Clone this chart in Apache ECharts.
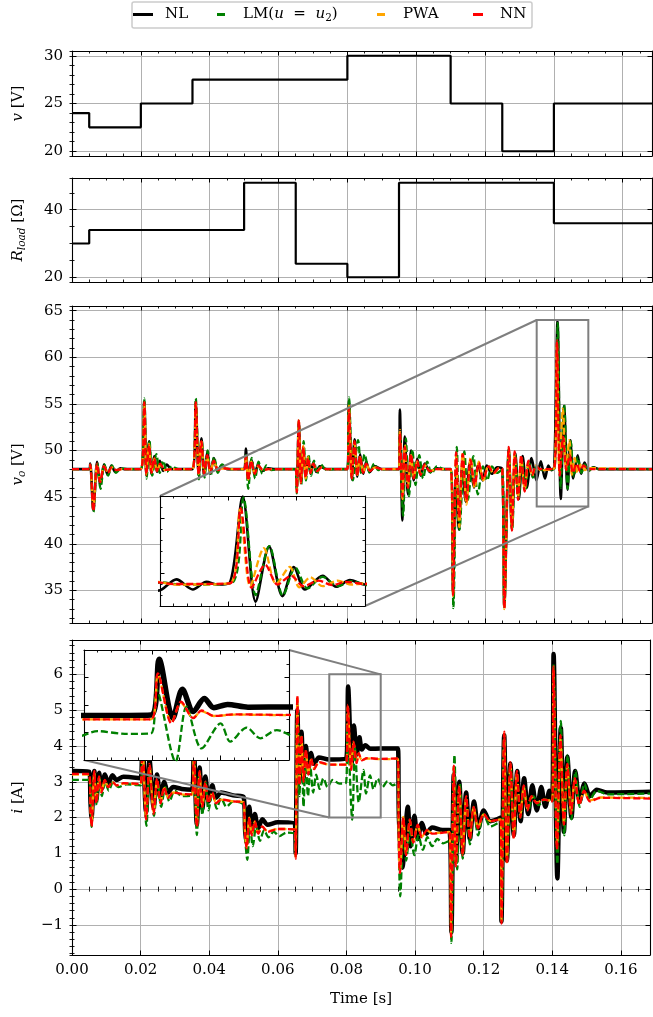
<!DOCTYPE html>
<html><head><meta charset="utf-8">
<script src="https://cdn.jsdelivr.net/npm/echarts@6/dist/echarts.min.js"></script>
<style>html,body{margin:0;padding:0;background:#fff;}#c{width:653px;height:1017px;}</style>
</head><body><div id="c"></div>
<script>
// ---------------- DATA (time in ms) ----------------
const vInput = [[0,24],[5,22.5],[20,25],[35,27.5],[80,30],[110,25],[125,20],[140,25],[168.5,25]];
const rLoad  = [[0,30],[5,34],[50,48],[65,24],[80,20],[95,48],[140,36],[168.5,36]];

const voNL = [[0,48],[5,48],[5.3,48.6],[6.2,43.6],[7.3,48.8],[8.2,46.3],[9.3,48.5],[10.4,47.4],[11.5,48.4],[12.6,47.7],[14,48.1],[15.5,48],
[20,48],[21.0,55.3],[21.6,47.3],[22.4,51.0],[23.1,47.5],[23.9,49.4],[24.7,47.7],[25.5,48.9],[26.5,47.8],[27.5,48.5],[29,48],
[35,48],[35.95,55.1],[36.8,47.3],[37.6,51.3],[38.4,47.3],[39.3,49.8],[40.2,47.5],[41.2,49.2],[42.3,47.8],[43.5,48.4],[45,48],
[50,48],[50.5,50.2],[51.2,47.1],[52.1,49.0],[53.1,47.5],[54.1,48.5],[55.2,47.8],[57,48.1],[59,48],
[65,48],[65.3,45.8],[65.9,53.0],[66.5,46.6],[67.2,50.3],[67.9,47.1],[68.6,49.3],[69.3,47.5],[70.1,48.7],[71,47.7],[72,48.3],[74,48],
[80,48],[80.45,55.3],[81.3,46.9],[82.1,51.2],[82.9,47.2],[83.7,49.6],[84.6,47.5],[85.5,48.8],[86.5,47.7],[88,48.3],[90,48],
[95,48],[95.25,54.4],[96,42.5],[96.7,51.5],[97.6,45.3],[98.5,50],[99.3,46.8],[100.3,49.1],[101.3,47.3],[102.5,48.6],[104,47.7],[106,48.1],[108,48],
[110,48],[110.7,34.8],[111.5,47],[112.4,41.5],[113.4,48.5],[114.4,44.5],[115.6,48.7],[116.8,46],[118,48.5],[119.3,46.8],[120.5,48.4],[122,47.5],[123.5,48.2],[125,48],
[125.6,33.3],[126.9,50.2],[127.8,41.6],[128.8,49.7],[129.8,44.8],[130.9,49.4],[132.1,46.0],[133.5,49.2],[134.9,46.8],[136.2,48.85],[137.4,47.0],[138.4,48.4],[139.2,47.9],[140.1,48.2],
[141.05,63.9],[142.0,44.8],[142.98,54.8],[143.96,45.8],[144.8,51.1],[145.6,47.0],[146.9,49.5],[147.9,47.5],[148.9,48.7],[150,47.9],[151.5,48.2],[153,48],[168.5,48]];

const voLM = [[0,48],[5,48],[5.3,48.5],[6.25,43.4],[7.3,48.7],[8.3,45.9],[9.4,48.5],[10.5,47.3],[11.6,48.4],[12.8,47.6],[14.3,48.1],[16,48],
[20,48],[21.0,55.6],[21.7,47.0],[22.5,51.1],[23.3,47.3],[24.5,49.6],[25.5,47.6],[26.5,48.9],[27.6,47.7],[29,48.3],[31,48],
[35,48],[35.95,55.6],[36.9,46.9],[37.7,51.0],[38.5,47.1],[39.4,50.0],[40.3,47.3],[41.3,49.3],[42.4,47.6],[43.6,48.5],[45.5,48],
[50,48],[50.5,49.5],[51.2,45.9],[52.2,49.2],[53.2,47.0],[54.2,48.8],[55.3,47.5],[56.5,48.4],[58,47.9],[60,48],
[65,48],[65.3,45.4],[65.9,53.2],[66.6,46.3],[67.3,51.0],[68.0,46.8],[68.7,49.6],[69.5,47.3],[70.3,48.9],[71.2,47.5],[72.3,48.5],[74,47.9],[76,48],
[80,48],[80.5,55.7],[81.6,46.8],[83.1,51.1],[84.1,47.5],[85,49.6],[86.5,47.6],[87.8,48.6],[89,47.9],[91,48],
[95,48],[95.2,51.9],[96.2,43.0],[97.0,51.3],[97.9,45.1],[98.9,50.1],[99.8,46.3],[100.9,49.5],[102,47.0],[103.2,48.8],[104.5,47.5],[106,48.3],[108,48],
[110,48],[110.8,33.1],[111.8,50.4],[112.6,41.5],[114.0,49.9],[115.0,44.7],[116.6,49.4],[117.9,45.3],[119.4,48.3],[120.6,46.8],[122,48.3],[123.5,47.6],[125,48],
[125.6,33.0],[126.9,50.1],[127.9,41.5],[128.8,49.5],[129.8,44.9],[130.7,49.2],[131.7,45.7],[132.8,48.8],[133.9,47.1],[135,48.3],[136.5,47.9],[140.2,48.1],
[141.1,63.7],[142.0,46.0],[143.0,54.9],[144.0,45.9],[144.9,51.0],[145.8,47.2],[146.9,49.3],[148,47.6],[149,48.5],[150.2,47.8],[151.5,48.2],[153,48],[168.5,48]];

const voPWA = [[0,48],[5,48],[5.3,48.4],[6.2,43.8],[7.3,48.5],[8.2,46.7],[9.3,48.3],[10.5,47.6],[11.6,48.2],[13,47.9],[14.5,48],
[20,48],[21.0,55.0],[21.6,47.5],[22.4,50.7],[23.1,47.6],[23.9,49.1],[24.7,47.8],[25.6,48.5],[27,47.9],[29,48],
[35,48],[35.95,55.0],[36.8,47.5],[37.6,51.1],[38.4,47.5],[39.3,49.4],[40.2,47.7],[41.2,48.8],[42.5,47.9],[44,48.1],[46,48],
[50,48],[50.5,49.6],[51.2,46.9],[52.1,48.8],[53.1,47.6],[54.1,48.3],[55.5,47.9],[57,48],
[65,48],[65.3,45.6],[65.9,53.2],[66.5,46.6],[67.2,50.5],[67.9,47.0],[68.6,49.3],[69.3,47.6],[70.1,48.6],[71.2,47.8],[72.5,48.2],[74,48],
[80,48],[80.45,54.8],[81.3,47.1],[82.1,50.8],[82.9,47.4],[83.7,49.3],[84.6,47.6],[85.5,48.6],[86.6,47.8],[88,48.2],[90,48],
[95,48],[95.25,52.2],[96,44.8],[96.7,50.6],[97.6,46.1],[98.5,49.5],[99.3,47.1],[100.3,48.8],[101.3,47.5],[102.5,48.4],[104,47.8],[106,48],
[110,48],[110.7,34.4],[111.6,49.5],[112.5,41.8],[113.5,49.8],[114.6,44.2],[115.8,49.2],[117,46.0],[118.2,48.8],[119.5,46.8],[121,48.4],[122.5,47.5],[124,48.1],[125,48],
[125.6,33.0],[126.9,50.2],[127.8,41.6],[128.6,49.6],[129.6,45.0],[130.5,49.2],[131.5,45.9],[132.6,48.7],[133.7,47.3],[134.8,48.4],[136,47.9],[140.1,48.1],
[140.85,61.5],[141.6,47.6],[142.6,54.5],[143.5,48.0],[144.5,51.1],[145.2,47.4],[146.0,49.2],[146.9,47.6],[148,48.6],[149,47.9],[150,48.1],[168.5,48]];

const voNN = [[0,48],[5,48],[5.3,48.5],[6.2,43.5],[7.3,48.6],[8.2,46.6],[9.3,48.3],[10.4,47.6],[11.5,48.2],[13,47.9],[14.5,48],
[20,48],[21.0,55.2],[21.6,47.4],[22.4,50.6],[23.1,47.6],[23.9,49.2],[24.7,47.8],[25.6,48.6],[27,47.9],[29,48],
[35,48],[35.95,55.2],[36.8,47.4],[37.6,51.0],[38.4,47.5],[39.3,49.5],[40.2,47.6],[41.2,48.9],[42.5,47.9],[44,48.1],[46,48],
[50,48],[50.5,49.4],[51.2,46.8],[52.1,48.9],[53.1,47.5],[54.1,48.4],[55.5,47.9],[57,48],
[65,48],[65.3,45.5],[65.9,53.3],[66.5,46.5],[67.2,50.4],[67.9,47.1],[68.6,49.2],[69.3,47.6],[70.1,48.6],[71.2,47.8],[72.5,48.2],[74,48],
[80,48],[80.45,54.6],[81.3,47],[82.1,51],[82.9,47.3],[83.7,49.4],[84.6,47.6],[85.5,48.6],[86.6,47.8],[88,48.2],[90,48],
[95,48],[95.25,51.9],[96,45.1],[96.7,50.4],[97.6,46],[98.5,49.6],[99.3,47],[100.3,48.9],[101.3,47.4],[102.5,48.5],[104,47.8],[106,48],
[110,48],[110.7,34.5],[111.6,49.8],[112.5,42.8],[113.5,49.6],[114.6,44.6],[115.8,49.0],[117,46.3],[118.2,48.7],[119.5,46.9],[121,48.3],[122.5,47.6],[124,48.1],[125,48],
[125.6,33.1],[126.9,50.4],[127.8,41.4],[128.6,49.9],[129.6,44.7],[130.5,49.5],[131.5,45.6],[132.6,48.9],[133.7,47.4],[134.8,48.3],[136,48.0],[140.1,48.1],
[140.9,61.8],[141.7,47.3],[142.7,51.5],[143.6,47.9],[144.6,49.5],[145.5,47.6],[146.6,48.6],[147.6,47.8],[148.6,48.4],[150,48],[168.5,48]];

const iNL = [[0,3.3],[5,3.28],[5.4,2.4],[5.7,2.0],[6.5,3.3],[7.1,2.5],[7.9,3.25],[8.6,2.8],[9.6,3.2],[10.6,2.95],[11.8,3.18],[13,3.05],[15,3.14],[20,3.1],
[20.5,4.3],[21.6,2.15],[22.6,3.6],[23.8,2.3],[24.8,3.2],[25.8,2.55],[26.9,3.0],[28,2.7],[29.5,2.85],[32,2.8],[35,2.78],
[35.5,4.0],[36.4,1.8],[37.2,3.4],[38,2.25],[38.9,3.15],[39.8,2.45],[40.9,2.9],[42,2.55],[43.5,2.7],[47,2.62],[50,2.58],
[50.5,1.6],[50.9,1.3],[51.7,2.3],[52.4,1.6],[53.3,2.1],[54.3,1.7],[55.5,1.95],[57,1.8],[60,1.87],[65,1.82],
[65.2,1.0],[65.7,5.0],[66.3,3.0],[66.9,4.4],[67.5,3.1],[68.2,4.0],[68.9,3.35],[69.7,3.8],[70.6,3.5],[72,3.68],[75,3.62],[79.9,3.64],
[80.5,5.66],[81.5,3.52],[82.2,4.57],[83.0,3.76],[83.8,4.24],[84.5,3.9],[85.5,4.02],[87,3.92],[90,3.93],[95,3.93],
[95.3,2.0],[96.3,0.6],[97.9,2.3],[98.7,1.2],[99.8,2.05],[100.8,1.4],[102,1.85],[103.3,1.55],[105,1.72],[108,1.65],[110,1.65],
[110.6,-1.2],[111.3,3.2],[111.9,0.8],[112.9,3.0],[113.9,1.0],[114.9,2.7],[116,1.4],[117.2,2.45],[118.5,1.7],[120,2.2],[122,1.9],[125,2.0],
[125.2,-0.9],[126.0,4.3],[126.8,0.8],[127.8,3.5],[128.8,1.5],[129.8,3.3],[130.8,1.9],[131.8,3.1],[133,2.1],[134.2,2.9],[135.5,2.2],[136.8,2.85],[138,2.3],[139.2,2.75],[140,2.5],
[140.4,6.57],[141.5,0.3],[142.5,4.5],[143.4,1.6],[144.4,3.7],[145.6,2.0],[146.7,3.3],[148,2.45],[149.4,2.95],[151,2.6],[153,2.78],[156,2.7],[168.5,2.72]];

const iLM = [[0,3.05],[5,3.05],[5.7,1.74],[6.5,3.2],[7.2,2.35],[8.0,3.1],[8.7,2.6],[9.7,3.0],[10.7,2.75],[12,2.98],[13.5,2.85],[16,2.93],[20,2.9],
[20.5,4.0],[21.7,1.77],[22.7,3.4],[23.9,2.05],[25,3.0],[26,2.3],[27.2,2.85],[28.4,2.45],[30,2.75],[32,2.6],[35,2.62],
[35.5,3.8],[36.4,1.51],[37.2,3.25],[38,2.07],[38.9,3.0],[39.8,2.2],[41,2.7],[42.2,2.25],[43.5,2.55],[45,2.3],[47,2.45],[50,2.35],
[50.5,1.4],[51.1,0.82],[51.9,1.8],[52.7,1.2],[53.7,1.75],[54.8,1.35],[56,1.65],[57.3,1.45],[58.8,1.6],[60.5,1.48],[62.5,1.58],[65,1.53],
[65.2,0.9],[65.7,5.2],[66.3,2.6],[66.9,4.3],[67.5,2.3],[68.1,3.7],[68.8,2.6],[69.5,3.4],[70.3,2.7],[71.2,3.2],[72.2,2.8],[73.3,3.1],[74.5,2.85],[76,3.05],[78,2.95],[79.9,2.97],
[80.3,4.55],[81.7,1.94],[82.5,3.94],[83.6,2.42],[85.0,3.33],[85.7,2.67],[86.9,3.18],[87.9,2.79],[89.1,3.09],[90.5,2.85],[92,3.02],[93.5,2.9],[95,2.96],
[95.3,1.0],[95.7,-0.2],[96.6,1.7],[97.4,0.8],[98.6,1.6],[99.8,0.95],[101,1.5],[102.3,1.1],[103.6,1.45],[105,1.2],[106.5,1.4],[108.2,1.28],[110,1.35],
[110.6,-1.5],[111.5,3.75],[112.3,0.55],[113.1,2.96],[113.9,0.85],[114.9,2.45],[116,1.25],[117.1,2.3],[118.4,1.5],[120,2.1],[122,1.75],[125,1.9],
[125.25,-0.9],[126.05,4.2],[126.9,0.8],[127.9,3.4],[128.9,1.5],[129.8,3.1],[130.8,2.0],[131.8,2.85],[133,2.2],[134.5,2.6],[136,2.35],[138,2.5],[140,2.45],
[140.4,6.3],[141.5,0.7],[142.5,4.7],[143.5,1.5],[144.5,3.75],[145.6,1.95],[146.8,3.3],[148,2.3],[149.4,2.95],[151,2.5],[153,2.75],[156,2.65],[168.5,2.67]];

const iPWA = [[0,3.2],[5,3.2],[5.4,2.25],[5.7,1.8],[6.5,3.25],[7.1,2.45],[7.9,3.1],[8.6,2.72],[9.6,3.03],[10.6,2.86],[11.8,2.98],[13,2.9],[15,2.95],[20,2.93],
[20.5,4.1],[21.6,2.0],[22.6,3.45],[23.8,2.15],[24.8,3.05],[25.8,2.42],[26.9,2.82],[28,2.57],[29.5,2.7],[32,2.65],[35,2.64],
[35.5,3.85],[36.4,1.78],[37.2,3.25],[38,2.32],[38.9,2.95],[39.8,2.42],[40.9,2.68],[42,2.42],[43.5,2.5],[47,2.45],[50,2.43],
[50.4,1.65],[50.9,1.18],[51.7,2.0],[52.4,1.52],[53.3,1.88],[54.3,1.57],[55.5,1.74],[57,1.62],[60,1.68],[65,1.67],
[65.2,0.9],[65.7,5.35],[66.3,2.95],[66.9,4.25],[67.5,3.05],[68.2,3.85],[68.9,3.25],[69.7,3.62],[70.6,3.38],[72,3.53],[75,3.48],[79.9,3.48],
[80.4,5.1],[81.4,3.36],[82.1,4.08],[83.0,3.54],[83.6,3.78],[84.5,3.6],[86,3.65],[90,3.63],[95,3.64],
[95.25,1.55],[95.6,0.5],[96.6,2.02],[97.4,1.0],[98.5,1.92],[99.5,1.32],[100.8,1.78],[102,1.46],[103.5,1.64],[105,1.56],[110,1.6],
[110.5,-1.25],[111.3,3.4],[111.9,0.7],[112.9,2.85],[113.9,1.0],[114.9,2.55],[116,1.45],[117.1,2.28],[118.4,1.72],[120,2.08],[122,1.9],[125,1.95],
[125.2,-0.9],[126.0,4.35],[126.8,0.75],[127.8,3.5],[128.8,1.45],[129.7,3.25],[130.7,2.05],[131.7,2.85],[132.8,2.25],[134,2.58],[135.5,2.42],[137.5,2.5],[140,2.46],
[140.35,6.1],[141.4,1.2],[142.4,4.2],[143.4,1.85],[144.4,3.45],[145.5,2.15],[146.6,3.05],[147.9,2.38],[149.3,2.72],[151,2.48],[154,2.56],[168.5,2.55]];

const iNN = [[0,3.22],[5,3.22],[5.4,2.2],[5.7,1.75],[6.5,3.3],[7.1,2.4],[7.9,3.15],[8.6,2.7],[9.6,3.05],[10.6,2.85],[11.8,3.0],[13,2.9],[15,2.96],[20,2.94],
[20.5,4.2],[21.6,1.95],[22.6,3.5],[23.8,2.1],[24.8,3.1],[25.8,2.4],[26.9,2.85],[28,2.55],[29.5,2.7],[32,2.66],[35,2.65],
[35.5,3.9],[36.4,1.74],[37.2,3.3],[38,2.3],[38.9,3.0],[39.8,2.4],[40.9,2.7],[42,2.4],[43.5,2.5],[47,2.45],[50,2.42],
[50.4,1.6],[50.9,1.14],[51.7,2.0],[52.4,1.5],[53.3,1.9],[54.3,1.55],[55.5,1.75],[57,1.6],[60,1.68],[65,1.67],
[65.2,0.85],[65.7,5.4],[66.3,2.9],[66.9,4.3],[67.5,3.0],[68.2,3.9],[68.9,3.2],[69.7,3.65],[70.6,3.35],[72,3.55],[75,3.48],[79.9,3.48],
[80.4,5.15],[81.4,3.33],[82.1,4.12],[83.0,3.52],[83.6,3.8],[84.5,3.6],[86,3.66],[90,3.64],[95,3.65],
[95.25,1.5],[95.6,0.45],[96.6,2.0],[97.4,0.95],[98.5,1.95],[99.5,1.3],[100.8,1.8],[102,1.45],[103.5,1.65],[105,1.55],[110,1.6],
[110.5,-1.33],[111.3,3.45],[111.9,0.64],[112.9,2.9],[113.9,0.95],[114.9,2.6],[116,1.4],[117.1,2.3],[118.4,1.7],[120,2.1],[122,1.9],[125,1.95],
[125.2,-0.96],[126.0,4.4],[126.8,0.7],[127.8,3.55],[128.8,1.4],[129.7,3.3],[130.7,2.0],[131.7,2.9],[132.8,2.2],[134,2.6],[135.5,2.4],[137.5,2.5],[140,2.45],
[140.35,6.22],[141.4,1.1],[142.4,4.3],[143.4,1.8],[144.4,3.5],[145.5,2.1],[146.6,3.1],[147.9,2.35],[149.3,2.75],[151,2.45],[154,2.55],[168.5,2.53]];

// zoom windows [t0, t1] in s and [y0, y1]
const zoomVo = [0.135, 0.15, 44, 64];
const zoomI  = [0.075, 0.09, 2, 6];

// ---------------- CHART ----------------
const S = a => a.map(p => [p[0] / 1000, p[1]]);
const FF = 'DejaVu Serif';
const FS = 15;
const TXT = {fontFamily: FF, fontSize: FS, color: '#000'};
const RICH = {
  i: {fontFamily: FF, fontSize: FS, fontStyle: 'italic', color: '#000', lineHeight: 19},
  s: {fontFamily: FF, fontSize: 10.5, fontStyle: 'italic', color: '#000', lineHeight: 10, verticalAlign: 'bottom'},
  su: {fontFamily: FF, fontSize: 10.5, color: '#000', lineHeight: 10, verticalAlign: 'bottom'}
};
function isMul(v, step) { const r = v / step; return Math.abs(r - Math.round(r)) < 1e-6; }
function fmtNum(v, dec) { const s = Math.abs(v).toFixed(dec); return v < -1e-9 ? '\u2212' + s : s; }

const grids = [], xAxes = [], yAxes = [];
function addPanel(box, xr, yr, o) {
  const gi = grids.length;
  const zl = o.zlevel || 0;
  grids.push(Object.assign({show: !!o.bg, backgroundColor: o.bg || 'transparent', borderWidth: 0, zlevel: zl, z: 0}, box));
  const line = {show: true, onZero: false, lineStyle: {color: '#000', width: 1.1}};
  const tickMaj = {show: true, inside: true, length: 4.5, lineStyle: {color: '#000', width: 1}};
  const tickMin = {show: true, inside: true, length: 2.5, lineStyle: {color: '#000', width: 0.9}};
  const split = {show: !!o.gridLines, lineStyle: {color: '#b0b0b0', width: 1}};
  const mk = (pos, rng, major, withLabel, margin) => {
    const a = {gridIndex: gi, type: 'value', position: pos, min: rng[0], max: rng[1],
      splitNumber: major ? rng[2] : rng[3], zlevel: zl, z: o.axisZ || 0, silent: true,
      axisLine: major ? line : {show: false},
      axisTick: major ? tickMaj : tickMin,
      splitLine: major && (pos === 'bottom' || pos === 'left') ? split : {show: false},
      axisLabel: {show: false}};
    if (withLabel) a.axisLabel = Object.assign({show: true, margin, formatter: v => isMul(v, rng[4]) ? fmtNum(v, rng[5]) : ''}, TXT);
    return a;
  };
  const xi = xAxes.length;
  xAxes.push(mk('bottom', xr, true, o.xLabels, 8), mk('bottom', xr, false), mk('top', xr, true), mk('top', xr, false));
  const yi = yAxes.length;
  yAxes.push(mk('left', yr, true, o.yLabels, 9), mk('left', yr, false), mk('right', yr, true), mk('right', yr, false));
  if (o.yName) Object.assign(yAxes[yi], {name: o.yName, nameLocation: 'middle', nameRotate: 90, nameGap: 44,
    nameTextStyle: Object.assign({rich: RICH, lineHeight: 19}, TXT)});
  if (o.xName) Object.assign(xAxes[xi], {name: o.xName, nameLocation: 'middle', nameGap: 37,
    nameTextStyle: Object.assign({rich: RICH}, TXT)});
  return {gi, xi, yi, zl};
}

const XR = [0, 0.1685, 8, 34, 0.02, 2];
const pV  = addPanel({left: 72, top: 51, width: 580, height: 105}, XR, [19.5, 30.5, 2, 11, 5, 0], {gridLines: 1, yLabels: 1, yName: '{i|v} [V]'});
const pR  = addPanel({left: 72, top: 178, width: 580, height: 104}, XR, [18.6, 49.4, 2, 6, 20, 0], {gridLines: 1, yLabels: 1, yName: '{i|R}{s|load} [Ω]'});
const pVo = addPanel({left: 72, top: 306, width: 580, height: 317}, XR, [31.5, 65.5, 7, 34, 5, 0], {gridLines: 1, yLabels: 1, yName: '{i|v}{s|o} [V]'});
const pI  = addPanel({left: 72, top: 640, width: 580, height: 315}, XR, [-1.84, 6.96, 8, 44, 1, 0], {gridLines: 1, yLabels: 1, xLabels: 1, yName: '{i|i} [A]', xName: 'Time [s]'});
const pZ1 = addPanel({left: 160, top: 496, width: 205, height: 110}, [zoomVo[0], zoomVo[1], 3, 15, 1, 0], [zoomVo[2], zoomVo[3], 2, 10, 1, 0], {zlevel: 1, bg: '#fff', axisZ: 6});
const pZ2 = addPanel({left: 84, top: 650, width: 205, height: 110}, [zoomI[0], zoomI[1], 3, 15, 1, 0], [zoomI[2], zoomI[3], 4, 8, 1, 0], {zlevel: 1, bg: '#fff', axisZ: 6});

const DASH = [7, 3];
const STY = {
  NL:  {color: '#000000', width: 2.6, type: 'solid', z: 2},
  LM:  {color: '#008000', width: 2.3, type: DASH, z: 3},
  PWA: {color: '#ffa500', width: 2.3, type: DASH, z: 4},
  NN:  {color: '#ff0000', width: 2.3, type: DASH, z: 5}
};
function ser(name, data, p, widthOverride) {
  const st = STY[name];
  return {type: 'line', name, data: S(data), xAxisIndex: p.xi, yAxisIndex: p.yi, symbol: 'none', showSymbol: false,
    smooth: 0.3, animation: false, silent: true, zlevel: p.zl, z: st.z + (p.zl ? 10 : 0), color: st.color,
    lineStyle: {color: st.color, width: widthOverride || st.width, type: st.type, cap: 'butt', join: 'round'}};
}
const series = [
  {type: 'line', name: 'v', data: S(vInput), step: 'end', xAxisIndex: pV.xi, yAxisIndex: pV.yi, symbol: 'none', animation: false, silent: true, lineStyle: {color: '#000', width: 2.2}},
  {type: 'line', name: 'R', data: S(rLoad), step: 'end', xAxisIndex: pR.xi, yAxisIndex: pR.yi, symbol: 'none', animation: false, silent: true, lineStyle: {color: '#000', width: 2.2}},
  ser('NL', voNL, pVo), ser('LM', voLM, pVo), ser('PWA', voPWA, pVo), ser('NN', voNN, pVo),
  ser('NL', iNL, pI, 4.5), ser('LM', iLM, pI), ser('PWA', iPWA, pI), ser('NN', iNN, pI),
  ser('NL', voNL, pZ1), ser('LM', voLM, pZ1), ser('PWA', voPWA, pZ1), ser('NN', voNN, pZ1),
  ser('NL', iNL, pZ2, 5.5), ser('LM', iLM, pZ2), ser('PWA', iPWA, pZ2), ser('NN', iNN, pZ2)
];

function legendItem(name, left, path, w, label) {
  return {left, top: 5, padding: 0, itemWidth: w, itemHeight: 3, selectedMode: false,
    data: [{name, icon: 'path://' + path, itemStyle: {color: STY[name].color}}],
    formatter: () => label,
    textStyle: Object.assign({rich: RICH, lineHeight: 19}, TXT)};
}
const legend = [
  legendItem('NL', 133, 'M0,0h20v3h-20zM27,0L27,3L27,0z', 27, 'NL'),
  legendItem('LM', 217, 'M0,0h8v3h-8zM21,0L21,3L21,0z', 21, 'LM({i|u}  =  {i|u}{su|2})'),
  legendItem('PWA', 377, 'M0,0h8v3h-8zM21,0L21,3L21,0z', 21, 'PWA'),
  legendItem('NN', 473, 'M0,0h10v3h-10zM22,0L22,3L22,0z', 22, 'NN')
];

const chart = echarts.init(document.getElementById('c'), null, {renderer: 'canvas', width: 653, height: 1017});
chart.setOption({animation: false, backgroundColor: '#fff', grid: grids, xAxis: xAxes, yAxis: yAxes, series, legend});

// zoom rectangles and connectors (positions from the axes' own scales)
function P(p, x, y) { return chart.convertToPixel({xAxisIndex: p.xi, yAxisIndex: p.yi}, [x, y]); }
const GRAY = {stroke: '#7f7f7f', lineWidth: 2, fill: null};
const gfx = [{type: 'rect', shape: {x: 132, y: 2, width: 400, height: 26, r: 2}, style: {fill: null, stroke: '#cccccc', lineWidth: 1.5}, z: 1, silent: true}];
function zoomMark(main, inset, w, pairs) {
  const a = P(main, w[0], w[3]), b = P(main, w[1], w[2]);
  gfx.push({type: 'rect', shape: {x: a[0], y: a[1], width: b[0] - a[0], height: b[1] - a[1]}, style: GRAY, z: 50, silent: true});
  pairs.forEach(([cx, cy]) => {
    const m = P(main, w[cx], w[cy]), n = P(inset, w[cx], w[cy]);
    gfx.push({type: 'line', shape: {x1: n[0], y1: n[1], x2: m[0], y2: m[1]}, style: {stroke: '#7f7f7f', lineWidth: 2}, z: 50, silent: true});
  });
}
zoomMark(pVo, pZ1, zoomVo, [[0, 3], [1, 2]]);
zoomMark(pI, pZ2, zoomI, [[1, 3], [0, 2]]);
chart.setOption({graphic: gfx});
</script></body></html>
